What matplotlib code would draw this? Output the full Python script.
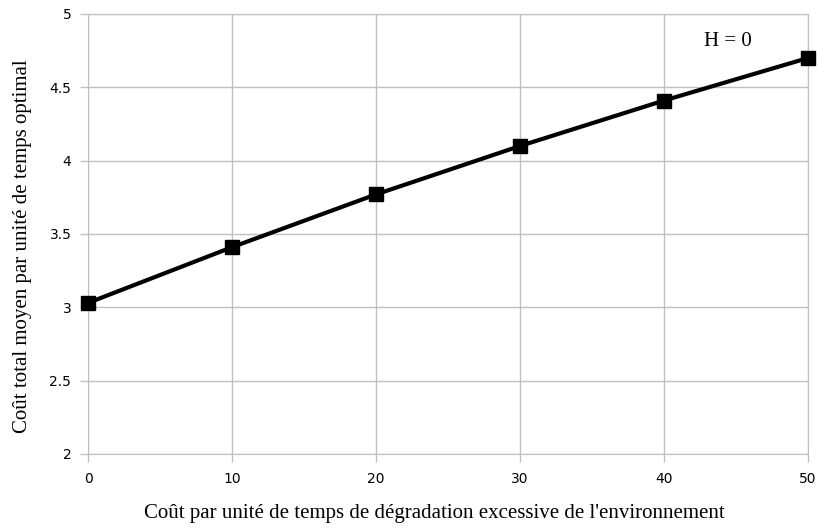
import matplotlib
matplotlib.use("Agg")
import matplotlib.pyplot as plt

# --- data ---
cost_env = [0, 10, 20, 30, 40, 50]
cost_total = [3.03, 3.41, 3.77, 4.10, 4.41, 4.70]
x_ticks = [0, 10, 20, 30, 40, 50]
y_ticks = [2, 2.5, 3, 3.5, 4, 4.5, 5]
y_labels = ["2", "2.5", "3", "3.5", "4", "4.5", "5"]

grid_col = "#c0c0c0"

fig = plt.figure(figsize=(8.18, 5.28), dpi=100)
ax = fig.add_axes([0.1076, 0.1402, 0.8802, 0.8333])

ax.plot(cost_env, cost_total, color="black", lw=3, marker="s", ms=10,
        clip_on=False, zorder=3)

ax.set_xlim(0, 50)
ax.set_ylim(2, 5)
ax.set_xticks(x_ticks)
ax.set_yticks(y_ticks)
ax.set_yticklabels(y_labels)
ax.grid(True, color=grid_col, lw=1)
for s in ax.spines.values():
    s.set_color(grid_col)
ax.tick_params(colors=grid_col, labelcolor="black", length=6, width=1,
               labelsize=10)
ax.tick_params(axis="x", pad=7)
ax.tick_params(axis="y", pad=6)

ax.set_xlabel("Coût par unité de temps de dégradation excessive de l'environnement",
              family="Liberation Serif", fontsize=15)
ax.set_ylabel("Coût total moyen par unité de temps optimal",
              family="Liberation Serif", fontsize=15)
ax.xaxis.set_label_coords(0.481, -0.113)
ax.yaxis.set_label_coords(-0.078, 0.473)

ax.text(44.4, 4.81, "H = 0", family="Liberation Serif", fontsize=15,
        ha="center", va="center")

fig.savefig("out.png", dpi=100)
